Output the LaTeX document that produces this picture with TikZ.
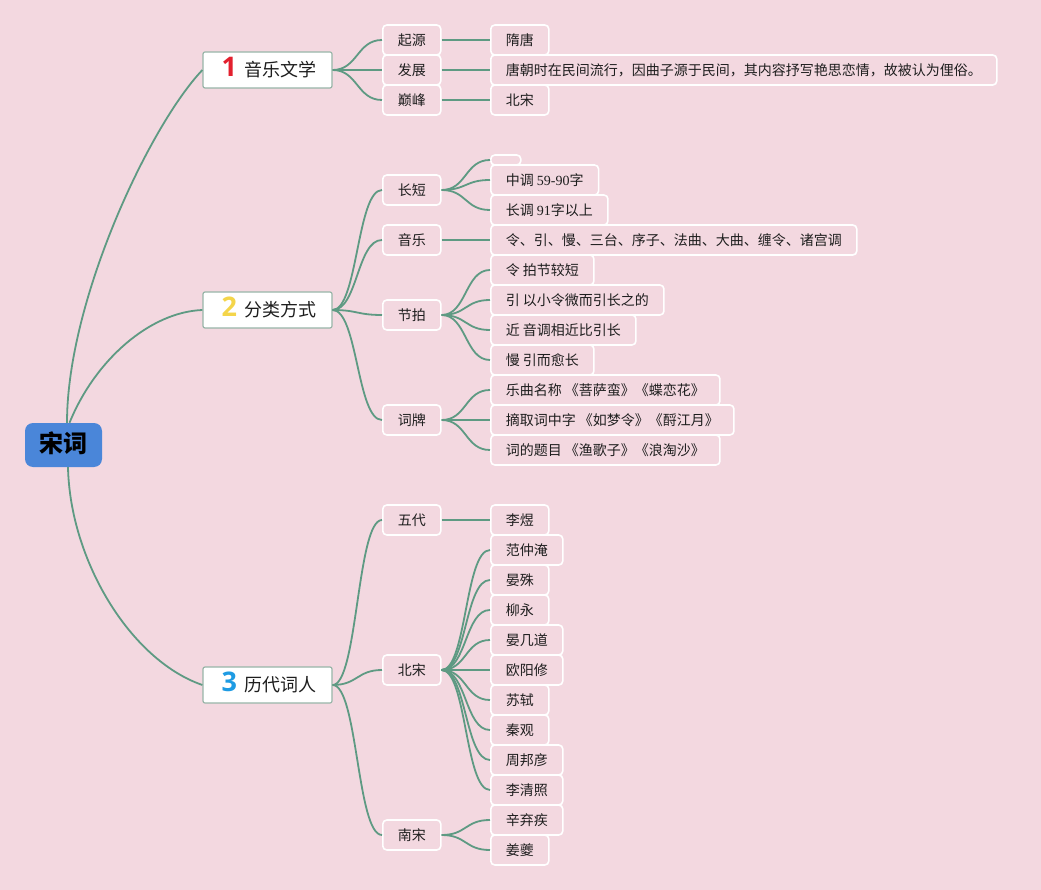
\documentclass[tikz,border=0pt]{standalone}
\usepackage{fontspec}
\setmainfont{Noto Sans CJK SC}
\newfontfamily\latser{Liberation Serif}
\newfontfamily\numfont{Open Sans}
\definecolor{bgC}{HTML}{F3D8E0}
\definecolor{lineC}{HTML}{5E9A83}
\definecolor{rootC}{HTML}{4A86D9}
\definecolor{mainB}{HTML}{98B5A8}
\definecolor{txtC}{HTML}{1E1E1E}
\definecolor{numR}{HTML}{E3202E}
\definecolor{numY}{HTML}{F4D54A}
\definecolor{numB}{HTML}{1E9BE3}
\newcommand\mmlink[2]{\draw[lk] (#1.east) .. controls +(25,0) and +(-25,0) .. (#2.west);}
\newcommand\mainlabel[2]{\makebox[22pt]{\numfont\bfseries\fontsize{27pt}{27pt}\selectfont\color{#1}#2}\hspace{4.5pt}}
\begin{document}
\begin{tikzpicture}[x=1pt,y=-1pt,
  lk/.style={draw=lineC, line width=1.8pt},
  leaf/.style={draw=white, line width=1.6pt, rounded corners=4pt, fill=bgC,
    minimum height=30pt, inner xsep=15pt, inner ysep=0pt, anchor=west,
    text height=12pt, text depth=1.5pt, text=txtC,
    font=\fontsize{14pt}{16pt}\selectfont},
  emptyleaf/.style={leaf, minimum height=10pt, text height=0pt, text depth=0pt},
  mainbox/.style={draw=mainB, line width=1.2pt, rounded corners=2pt, fill=white,
    minimum width=129pt, minimum height=36pt, inner xsep=0pt, inner ysep=0pt,
    text height=15pt, text depth=2pt, text=txtC,
    font=\fontsize{18pt}{20pt}\selectfont},
  rootbox/.style={fill=rootC, rounded corners=8pt, minimum width=77pt,
    minimum height=44pt, text=black, text height=17pt, text depth=2pt,
    font=\fontsize{24pt}{26pt}\selectfont\bfseries}
]
\fill[bgC] (0,0) rectangle (1041,890);
\useasboundingbox (0,0) rectangle (1041,890);

% root and main topics
\node[rootbox] (root) at (63.5,445) {宋词};
\node[mainbox] (m1) at (267.5,70) {\mainlabel{numR}{1}音乐文学};
\node[mainbox] (m2) at (267.5,310) {\mainlabel{numY}{2}分类方式};
\node[mainbox] (m3) at (267.5,685) {\mainlabel{numB}{3}历代词人};

% level 2
\node[leaf] (a1) at (382,40) {起源};
\node[leaf] (a2) at (382,70) {发展};
\node[leaf] (a3) at (382,100) {巅峰};
\node[leaf] (b1) at (382,190) {长短};
\node[leaf] (b2) at (382,240) {音乐};
\node[leaf] (b3) at (382,315) {节拍};
\node[leaf] (b4) at (382,420) {词牌};
\node[leaf] (c1) at (382,520) {五代};
\node[leaf] (c2) at (382,670) {北宋};
\node[leaf] (c3) at (382,835) {南宋};

% level 3
\node[leaf] (a1x) at (490,40) {隋唐};
\node[leaf] (a2x) at (490,70) {唐朝时在民间流行，因曲子源于民间，其内容抒写艳思恋情，故被认为俚俗。};
\node[leaf] (a3x) at (490,100) {北宋};
\node[emptyleaf] (b1x) at (490,160) {};
\node[leaf] (b1y) at (490,180) {中调 {\latser 59-90}字};
\node[leaf] (b1z) at (490,210) {长调 {\latser 91}字以上};
\node[leaf] (b2x) at (490,240) {令、引、慢、三台、序子、法曲、大曲、缠令、诸宫调};
\node[leaf] (b3a) at (490,270) {令 拍节较短};
\node[leaf] (b3b) at (490,300) {引 以小令微而引长之的};
\node[leaf] (b3c) at (490,330) {近 音调相近比引长};
\node[leaf] (b3d) at (490,360) {慢 引而愈长};
\node[leaf] (b4a) at (490,390) {乐曲名称 《菩萨蛮》《蝶恋花》};
\node[leaf] (b4b) at (490,420) {摘取词中字 《如梦令》《酹江月》};
\node[leaf] (b4c) at (490,450) {词的题目 《渔歌子》《浪淘沙》};
\node[leaf] (c1x) at (490,520) {李煜};
\node[leaf] (c2a) at (490,550) {范仲淹};
\node[leaf] (c2b) at (490,580) {晏殊};
\node[leaf] (c2c) at (490,610) {柳永};
\node[leaf] (c2d) at (490,640) {晏几道};
\node[leaf] (c2e) at (490,670) {欧阳修};
\node[leaf] (c2f) at (490,700) {苏轼};
\node[leaf] (c2g) at (490,730) {秦观};
\node[leaf] (c2h) at (490,760) {周邦彦};
\node[leaf] (c2i) at (490,790) {李清照};
\node[leaf] (c3a) at (490,820) {辛弃疾};
\node[leaf] (c3b) at (490,850) {姜夔};

% root connectors
\draw[lk] ([xshift=3.5pt]root.north) .. controls (67,300) and (150,125) .. (m1.west);
\draw[lk] ([xshift=6pt]root.north) .. controls (95,360) and (150,312) .. (m2.west);
\draw[lk] ([xshift=4.5pt]root.south) .. controls (70,560) and (130,660) .. (m3.west);

% main -> level 2
\foreach \c in {a1,a2,a3} {\mmlink{m1}{\c}}
\foreach \c in {b1,b2,b3,b4} {\mmlink{m2}{\c}}
\foreach \c in {c1,c2,c3} {\mmlink{m3}{\c}}

% level 2 -> level 3
\mmlink{a1}{a1x}
\mmlink{a2}{a2x}
\mmlink{a3}{a3x}
\foreach \c in {b1x,b1y,b1z} {\mmlink{b1}{\c}}
\mmlink{b2}{b2x}
\foreach \c in {b3a,b3b,b3c,b3d} {\mmlink{b3}{\c}}
\foreach \c in {b4a,b4b,b4c} {\mmlink{b4}{\c}}
\mmlink{c1}{c1x}
\foreach \c in {c2a,c2b,c2c,c2d,c2e,c2f,c2g,c2h,c2i} {\mmlink{c2}{\c}}
\foreach \c in {c3a,c3b} {\mmlink{c3}{\c}}
\end{tikzpicture}
\end{document}
